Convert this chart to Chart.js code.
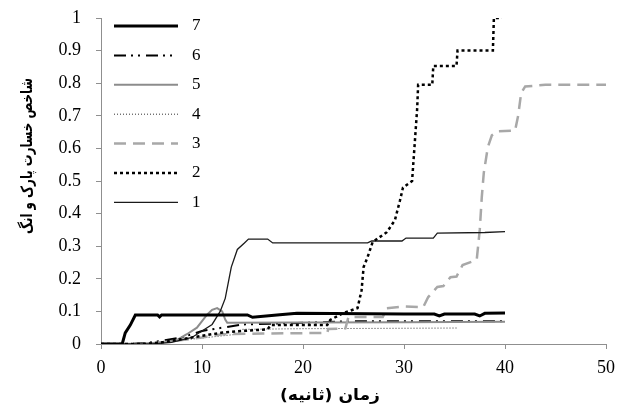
<!DOCTYPE html>
<html><head><meta charset="utf-8">
<style>html,body{margin:0;padding:0;background:#fff}</style>
<script src="https://cdn.jsdelivr.net/npm/chart.js@4"></script>
</head><body>
<canvas id="c" width="617" height="414" style="width:617px;height:414px;display:block"></canvas>
<script>
// ---- data ----
const xTicks = [0, 10, 20, 30, 40, 50];
const yTicks = [0, 0.1, 0.2, 0.3, 0.4, 0.5, 0.6, 0.7, 0.8, 0.9, 1];
const seriesNames = ['1', '2', '3', '4', '5', '6', '7'];
const xTitle = 'زمان (ثانیه)';
const yTitle = 'شاخص خسارت پارک و انگ';

const s1_t = [0, 5, 7, 9, 10, 11, 11.8, 12.3, 12.9, 13.5, 14.2, 14.6, 16.5, 17, 26.4, 26.8, 29.8, 30.2, 32.9, 33.3, 38, 40];
const s1_v = [0, 0, 0.005, 0.02, 0.04, 0.06, 0.1, 0.14, 0.236, 0.29, 0.31, 0.322, 0.322, 0.31, 0.31, 0.316, 0.316, 0.325, 0.325, 0.34, 0.342, 0.345];

const s2_t = [0, 4, 6, 8, 10, 12, 14, 16.5, 16.8, 22.4, 22.7, 24, 25.4, 25.8, 26, 26.4, 26.9, 28.3, 29.1, 29.6, 29.9, 30.8, 31.3, 31.4, 32.8, 32.9, 35.2, 35.3, 38.8, 38.9, 39.7];
const s2_v = [0, 0, 0.005, 0.015, 0.025, 0.035, 0.04, 0.045, 0.058, 0.058, 0.074, 0.095, 0.11, 0.165, 0.236, 0.267, 0.313, 0.343, 0.38, 0.44, 0.48, 0.5, 0.72, 0.795, 0.795, 0.853, 0.853, 0.9, 0.9, 1.0, 1.0];

const s3_t = [0, 4, 6, 8, 10, 12, 16, 22.4, 22.5, 24.2, 24.5, 27.9, 28.3, 30, 31.9, 32.4, 33.3, 33.9, 34.6, 35.2, 35.8, 37.2, 37.5, 37.7, 37.9, 38.3, 38.7, 39.2, 41, 41.3, 41.6, 42, 44, 50];
const s3_v = [0, 0, 0.005, 0.012, 0.02, 0.03, 0.032, 0.034, 0.046, 0.048, 0.083, 0.083, 0.11, 0.115, 0.113, 0.144, 0.175, 0.178, 0.205, 0.207, 0.242, 0.258, 0.35, 0.45, 0.525, 0.604, 0.64, 0.652, 0.655, 0.7, 0.77, 0.79, 0.795, 0.795];

const s4_t = [0, 4, 6, 9, 12, 13.5, 14, 20, 35.2];
const s4_v = [0, 0, 0.005, 0.015, 0.025, 0.03, 0.045, 0.047, 0.049];

const s5_t = [0, 4, 6, 7.5, 8.5, 9.5, 10.5, 11, 11.5, 12, 12.3, 12.5, 20, 30, 40];
const s5_v = [0, 0, 0.005, 0.012, 0.03, 0.05, 0.09, 0.105, 0.11, 0.1, 0.075, 0.065, 0.066, 0.067, 0.068];

const s6_t = [0, 3, 5, 8, 10, 12, 14, 20, 25, 40];
const s6_v = [0, 0, 0.005, 0.02, 0.04, 0.05, 0.06, 0.065, 0.07, 0.07];

const s7_t = [0, 2.1, 2.4, 2.9, 3.4, 5.6, 5.8, 6.0, 14.5, 15, 17.7, 19.4, 30, 33, 33.5, 34, 37, 37.5, 38, 40];
const s7_v = [0, 0, 0.034, 0.058, 0.089, 0.089, 0.083, 0.089, 0.089, 0.082, 0.09, 0.094, 0.092, 0.092, 0.086, 0.092, 0.092, 0.086, 0.094, 0.095];

// ---- styles ----
const pts = (t, v) => t.map((x, i) => ({ x: x, y: v[i] }));
const styles = {
  '7': { color: '#000000', width: 3, dash: [] },
  '6': { color: '#000000', width: 2, dash: [12, 5, 2, 5, 2, 6] },
  '5': { color: '#8c8c8c', width: 2, dash: [] },
  '4': { color: '#333333', width: 1, dash: [1, 2] },
  '3': { color: '#a8a8a8', width: 2.5, dash: [12, 7] },
  '2': { color: '#000000', width: 2.5, dash: [3, 3] },
  '1': { color: '#1a1a1a', width: 1.3, dash: [] }
};
const seriesData = { '1': pts(s1_t, s1_v), '2': pts(s2_t, s2_v), '3': pts(s3_t, s3_v), '4': pts(s4_t, s4_v), '5': pts(s5_t, s5_v), '6': pts(s6_t, s6_v), '7': pts(s7_t, s7_v) };

const drawOrder = ['2', '7', '1', '3', '5', '6', '4'];
const datasets = drawOrder.map(n => ({
  label: n,
  data: seriesData[n],
  borderColor: styles[n].color,
  borderWidth: styles[n].width,
  borderDash: styles[n].dash,
  pointRadius: 0,
  tension: 0,
  fill: false
}));

const serif = "'Liberation Serif', 'DejaVu Serif', serif";

function fitText(ctx, text, cx, cy, target) {
  const w = ctx.measureText(text).width;
  ctx.save();
  ctx.translate(cx, cy);
  ctx.scale(target / w, 1);
  ctx.fillText(text, 0, 0);
  ctx.restore();
}

const extras = {
  id: 'extras',
  afterDraw(chart) {
    const ctx = chart.ctx;
    ctx.save();
    // legend
    const order = ['7', '6', '5', '4', '3', '2', '1'];
    order.forEach((n, i) => {
      const y = 26 + i * 29.4;
      const s = styles[n];
      ctx.beginPath();
      ctx.setLineDash(s.dash);
      ctx.lineWidth = s.width;
      ctx.strokeStyle = s.color;
      ctx.moveTo(114, y);
      ctx.lineTo(178, y);
      ctx.stroke();
      ctx.setLineDash([]);
      ctx.fillStyle = '#000';
      ctx.font = '17px ' + serif;
      ctx.textAlign = 'left';
      ctx.textBaseline = 'middle';
      ctx.fillText(n, 192, y);
    });
    // axis titles
    ctx.fillStyle = '#000';
    ctx.font = "bold 16px 'DejaVu Sans', sans-serif";
    ctx.textAlign = 'center';
    ctx.textBaseline = 'middle';
    ctx.direction = 'rtl';
    fitText(ctx, xTitle, 330, 396, 100);
    ctx.translate(28, 156);
    ctx.rotate(-Math.PI / 2);
    fitText(ctx, yTitle, 0, 0, 156);
    ctx.restore();
  }
};

new Chart(document.getElementById('c'), {
  type: 'line',
  data: { datasets: datasets },
  options: {
    responsive: false,
    animation: false,
    devicePixelRatio: 1,
    layout: { padding: { left: 0, right: 11, top: 18, bottom: 0 } },
    plugins: { legend: { display: false }, tooltip: { enabled: false } },
    scales: {
      x: {
        type: 'linear', min: 0, max: 50,
        afterBuildTicks: s => { s.ticks = xTicks.map(v => ({ value: v })); },
        afterFit: s => { s.height = 70; s.paddingLeft = 0; s.paddingRight = 0; },
        grid: { drawOnChartArea: false, tickLength: 5, color: '#8f8f8f' },
        border: { color: '#8f8f8f', width: 1 },
        ticks: { color: '#000', font: { family: serif, size: 18 }, padding: 8, maxRotation: 0 }
      },
      y: {
        type: 'linear', min: 0, max: 1,
        afterBuildTicks: s => { s.ticks = yTicks.map(v => ({ value: v })); },
        afterFit: s => { s.width = 101; s.paddingTop = 0; s.paddingBottom = 0; },
        grid: { drawOnChartArea: false, tickLength: 5, color: '#8f8f8f' },
        border: { color: '#8f8f8f', width: 1 },
        ticks: { color: '#000', font: { family: serif, size: 18 }, padding: 15, callback: v => String(Math.round(v * 10) / 10) }
      }
    }
  },
  plugins: [extras]
});
</script>
</body></html>
